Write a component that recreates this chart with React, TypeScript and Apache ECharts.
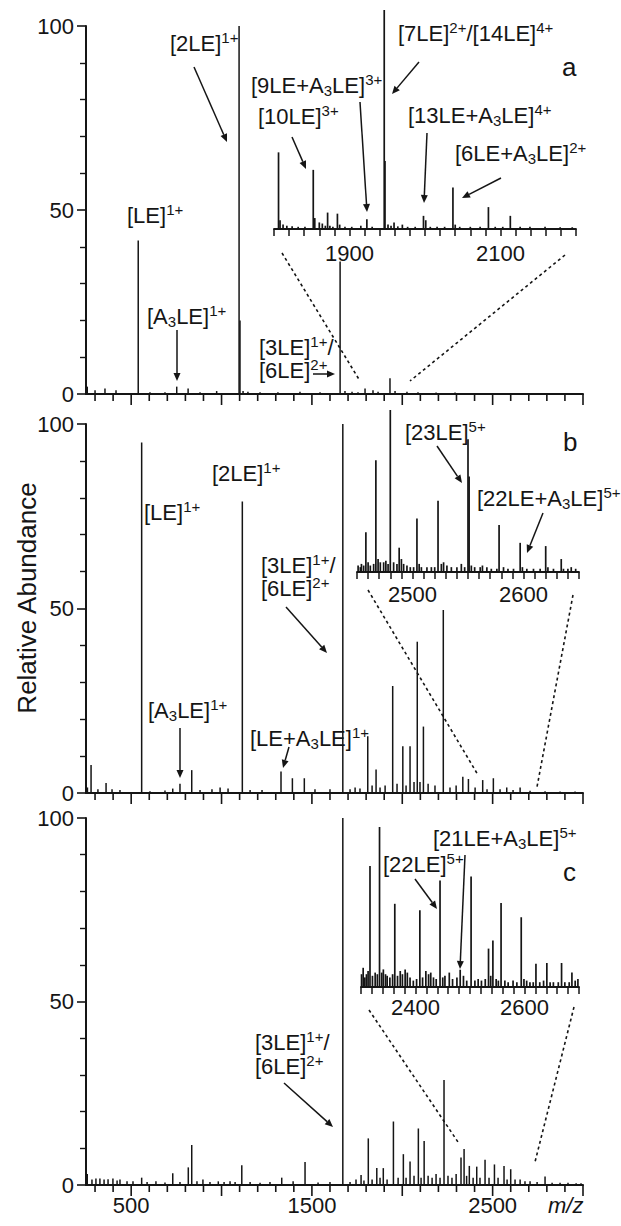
import React, { useEffect, useRef } from 'react';
import * as echarts from 'echarts';

// ---------- data ----------
const mainTicks = [300, 400, 500, 600, 700, 800, 900, 1000, 1100, 1200, 1300, 1400, 1500, 1600, 1700, 1800, 1900, 2000, 2100, 2200, 2300, 2400, 2500, 2600, 2700, 2800, 2900, 3000];
const mainXLabels = [500, 1500, 2500];
const insetALabels = [1900, 2100];
const insetBLabels = [2500, 2600];
const insetCLabels = [2400, 2600];

const peaksA: [number, number][] = [[257, 2], [300, 1], [355, 1.5], [416, 1], [539, 41.7], [604, 0.5], [687, 0.5], [752, 2], [815, 1.5], [881, 0.5], [973, 0.8], [1097, 100], [1102, 20], [1119, 0.8], [1146, 0.6], [1213, 0.5], [1312, 0.5], [1434, 0.6], [1545, 0.5], [1656, 36], [1683, 0.8], [1722, 0.6], [1755, 0.5], [1794, 1.5], [1838, 1], [1866, 0.6], [1932, 4.3], [1960, 0.8], [2026, 0.6], [2087, 0.5], [2187, 0.4], [2292, 0.4], [2430, 0.3]];

const peaksB: [number, number][] = [[258, 1.5], [278, 7.6], [316, 1], [361, 2.7], [394, 1], [438, 0.8], [558, 95], [604, 0.5], [687, 0.7], [730, 1.2], [770, 2.5], [835, 6.2], [881, 0.8], [947, 1], [992, 1.5], [1036, 1.2], [1115, 79], [1158, 0.8], [1224, 0.8], [1329, 5.8], [1392, 4], [1458, 4], [1517, 1], [1600, 1], [1671, 100], [1711, 1], [1739, 1.5], [1766, 1.2], [1809, 15.4], [1833, 2], [1855, 6.4], [1877, 1.5], [1905, 2], [1947, 29], [1971, 2.5], [2003, 12.7], [2021, 2], [2043, 12.7], [2065, 3], [2083, 41], [2098, 3], [2117, 18], [2143, 2.5], [2181, 2], [2227, 49.6], [2264, 1.5], [2298, 2], [2335, 4.4], [2366, 3.8], [2403, 1.5], [2445, 3.5], [2469, 1], [2504, 4], [2541, 1], [2578, 1.5], [2613, 0.8], [2652, 1.5], [2707, 0.6], [2790, 0.5], [2873, 0.4], [2956, 0.4]];

const peaksC: [number, number][] = [[257, 3], [283, 1.5], [305, 1.8], [327, 1.8], [350, 1.5], [372, 1.6], [399, 1.8], [422, 1.2], [438, 1.5], [477, 1], [510, 1], [558, 2], [588, 0.8], [637, 1], [687, 0.7], [730, 3.2], [770, 0.8], [816, 4.8], [835, 10.9], [864, 1], [897, 1.5], [936, 0.8], [982, 1], [1014, 0.8], [1047, 1], [1075, 0.8], [1112, 5.4], [1158, 0.8], [1213, 0.6], [1268, 0.8], [1333, 2], [1396, 1], [1462, 6.3], [1534, 0.7], [1600, 0.8], [1671, 100], [1711, 0.8], [1744, 1.5], [1772, 2.7], [1788, 1.2], [1812, 12.7], [1833, 1.5], [1859, 4.6], [1877, 2], [1895, 4.6], [1916, 1.5], [1951, 17.3], [1977, 2], [2006, 8.4], [2021, 2], [2043, 6.4], [2065, 2.5], [2089, 15.4], [2104, 2], [2121, 12], [2143, 2.5], [2165, 2], [2187, 3], [2209, 2], [2231, 28.6], [2253, 2.5], [2275, 2], [2298, 3], [2325, 7.5], [2342, 9.8], [2356, 2.5], [2371, 5.2], [2392, 2], [2412, 5], [2430, 2], [2458, 6.9], [2480, 2], [2510, 5.6], [2530, 2], [2563, 5.2], [2580, 1.5], [2600, 4.3], [2624, 1.5], [2652, 1.5], [2679, 1], [2707, 1], [2746, 0.8], [2790, 2.3], [2829, 0.6], [2873, 0.6], [2917, 0.6], [2962, 0.5], [2989, 0.5]];

const insetA: [number, number][] = [[1806, 35], [1808, 4], [1812, 2], [1817, 1.5], [1824, 1.2], [1832, 1], [1841, 1], [1852, 27], [1854, 5], [1860, 3], [1864, 2.5], [1868, 1.5], [1871, 7.5], [1874, 1.5], [1878, 1], [1884, 7], [1887, 2], [1894, 1], [1903, 1], [1915, 1.5], [1923, 4.4], [1930, 1], [1946, 100], [1947, 31], [1951, 2], [1955, 1.5], [1959, 3], [1964, 1.2], [1970, 2], [1977, 1], [1987, 1], [1998, 6], [2001, 4], [2007, 1], [2016, 1], [2026, 1], [2037, 19], [2040, 2], [2046, 1], [2060, 1], [2073, 1], [2084, 10], [2093, 1], [2103, 1], [2113, 6], [2126, 1], [2139, 1], [2159, 1], [2179, 0.8], [2195, 0.8]];

const insetB: [number, number][] = [[2451, 4], [2453, 3], [2454, 5], [2456, 4], [2458, 24.6], [2460, 6], [2462, 4], [2465, 5], [2467, 69], [2469, 8], [2471, 6], [2474, 6], [2476, 7], [2478, 5], [2480, 100], [2483, 6], [2486, 5], [2488, 15], [2490, 8], [2492, 5], [2495, 4], [2498, 3], [2501, 3], [2504, 33], [2506, 5], [2508, 3], [2513, 3], [2517, 3], [2520, 3], [2523, 44], [2526, 5], [2528, 6], [2531, 4], [2535, 3], [2540, 3], [2544, 5], [2547, 3], [2550, 82], [2551, 59], [2553, 4], [2556, 3], [2561, 3], [2563, 4], [2567, 3], [2571, 2], [2576, 2], [2578, 29], [2582, 3], [2586, 2], [2591, 2], [2597, 18], [2599, 3], [2603, 2], [2609, 2], [2615, 2], [2620, 16], [2622, 3], [2627, 2], [2634, 8], [2636, 2], [2640, 2], [2643, 3], [2647, 2]];

const insetC: [number, number][] = [[2301, 8], [2304, 12], [2307, 6], [2310, 8], [2313, 10], [2316.5, 75.6], [2321, 7], [2326, 9], [2330, 8], [2334, 100], [2338, 9], [2341, 11], [2345, 8], [2348, 7], [2353, 6], [2358, 8], [2362, 52], [2367, 7], [2372, 10], [2376, 8], [2381, 11], [2385, 9], [2390, 6], [2396, 4], [2402, 5], [2408, 48], [2413, 6], [2419, 10], [2424, 8], [2428, 9], [2433, 6], [2438, 5], [2445, 66.5], [2450, 6], [2454, 7], [2462, 9], [2468, 5], [2476, 6], [2482, 10.8], [2488, 7], [2494, 4], [2502, 69], [2509, 4], [2515, 5], [2521, 4], [2528, 5], [2534, 24], [2538, 7], [2542, 29], [2548, 5], [2552, 4], [2557, 52.5], [2564, 4], [2570, 3], [2579, 4], [2586, 3], [2594, 43.6], [2599, 5], [2604, 4], [2610, 3], [2616, 3], [2621, 14.5], [2628, 3], [2635, 4], [2641, 15], [2647, 3], [2653, 3], [2662, 3], [2668, 15], [2674, 3], [2682, 3], [2687, 9], [2693, 4], [2698, 5]];

// ---------- styling ----------
const C = '#151515';
const FONT = '"Liberation Sans", Arial, Helvetica, sans-serif';

const rich = {
  b: { fontSize: 22, lineHeight: 26, fontFamily: FONT, fill: C, color: C },
  sup: { fontSize: 15, lineHeight: 12, verticalAlign: 'top', fontFamily: FONT, fill: C, color: C },
  sub: { fontSize: 15, lineHeight: 12, verticalAlign: 'bottom', fontFamily: FONT, fill: C, color: C },
};

function label(x: number, y: number, t: string) {
  return {
    type: 'text', x, y, z: 20,
    style: { text: t, rich, fill: C, font: `22px ${FONT}`, align: 'left', verticalAlign: 'middle', textAlign: 'left', textVerticalAlign: 'middle' },
  };
}
function big(x: number, y: number, t: string) {
  return {
    type: 'text', x, y, z: 20,
    style: { text: t, fill: C, font: `26px ${FONT}`, align: 'left', verticalAlign: 'middle', textAlign: 'left', textVerticalAlign: 'middle' },
  };
}
function arrow(x1: number, y1: number, x2: number, y2: number) {
  const dx = x2 - x1, dy = y2 - y1;
  const L = Math.hypot(dx, dy);
  const ux = dx / L, uy = dy / L;
  const hl = 8, hw = 3.5;
  const bx = x2 - ux * hl, by = y2 - uy * hl;
  return [
    { type: 'line', z: 20, shape: { x1, y1, x2: bx, y2: by }, style: { stroke: C, lineWidth: 1.5 } },
    { type: 'polygon', z: 20, shape: { points: [[x2, y2], [bx - uy * hw, by + ux * hw], [bx + uy * hw, by - ux * hw]] }, style: { fill: C } },
  ];
}
function dashed(x1: number, y1: number, x2: number, y2: number) {
  return { type: 'line', z: 5, shape: { x1, y1, x2, y2 }, style: { stroke: C, lineWidth: 1.6, lineDash: [3, 3] } };
}

const A3 = '{b|[A}{sub|3}{b|LE]}';

function stickSeries(data: [number, number][], idx: number, lw: number) {
  return {
    type: 'custom', xAxisIndex: idx, yAxisIndex: idx, silent: true, clip: false,
    data, encode: { x: 0, y: 1 },
    renderItem: (_p: any, api: any) => {
      const x = api.value(0), y = api.value(1);
      const p0 = api.coord([x, 0]);
      const p1 = api.coord([x, y]);
      return { type: 'line', shape: { x1: p0[0], y1: p0[1], x2: p1[0], y2: p1[1] }, style: { stroke: C, lineWidth: lw } };
    },
  };
}
function tickSeries(idx: number) {
  return {
    type: 'custom', xAxisIndex: idx, yAxisIndex: idx, silent: true, clip: false,
    data: mainTicks.map((v) => [v, 0]), encode: { x: 0, y: 1 },
    renderItem: (_p: any, api: any) => {
      const v = api.value(0);
      const p = api.coord([v, 0]);
      const len = v % 500 === 0 ? 11 : 7;
      return { type: 'line', shape: { x1: p[0], y1: p[1], x2: p[0], y2: p[1] + len }, style: { stroke: C, lineWidth: 1.6 } };
    },
  };
}

export default function App() {
  const ref = useRef<HTMLDivElement>(null);
  useEffect(() => {
    document.body.style.margin = '0';
    const chart = echarts.init(ref.current!, null, { renderer: 'svg' });

    const grids = [
      { left: 86, top: 26, width: 497, height: 368 },
      { left: 86, top: 424, width: 497, height: 369 },
      { left: 86, top: 818, width: 497, height: 367 },
      { left: 274, top: 10, width: 302, height: 219 },
      { left: 357, top: 410, width: 222, height: 162 },
      { left: 361, top: 827, width: 218, height: 160 },
    ];

    const mainX = (i: number) => ({
      type: 'value', gridIndex: i, min: 250, max: 3000, interval: 250,
      axisLine: { show: true, lineStyle: { color: C, width: 2 } },
      axisTick: { show: false },
      splitLine: { show: false },
      axisLabel: {
        show: i === 2, fontSize: 22, color: C, fontFamily: FONT, margin: 9,
        formatter: (v: number) => (mainXLabels.includes(v) ? String(v) : ''),
      },
    });
    const insetX = (i: number, min: number, max: number, interval: number, labels: number[], margin: number) => ({
      type: 'value', gridIndex: i, min, max, interval,
      axisLine: { show: true, lineStyle: { color: C, width: 1.8 } },
      axisTick: { show: true, length: 7, lineStyle: { color: C, width: 1.5 } },
      splitLine: { show: false },
      axisLabel: {
        show: true, fontSize: 22, color: C, fontFamily: FONT, margin,
        formatter: (v: number) => (labels.includes(v) ? String(v) : ''),
      },
    });
    const mainY = (i: number) => ({
      type: 'value', gridIndex: i, min: 0, max: 100, interval: 50,
      axisLine: { show: true, lineStyle: { color: C, width: 2 } },
      axisTick: { show: true, length: 9, lineStyle: { color: C, width: 1.6 } },
      minorTick: { show: true, splitNumber: 5, length: 6, lineStyle: { color: C, width: 1.4 } },
      splitLine: { show: false },
      minorSplitLine: { show: false },
      axisLabel: { fontSize: 22, color: C, fontFamily: FONT, margin: 12 },
    });
    const insetY = (i: number) => ({ type: 'value', gridIndex: i, min: 0, max: 100, show: false, splitLine: { show: false } });

    const graphics: any[] = [
      // y title
      {
        type: 'text', x: 27, y: 598, rotation: Math.PI / 2, z: 20,
        style: { text: 'Relative Abundance', fill: C, font: `26px ${FONT}`, align: 'center', verticalAlign: 'middle', textAlign: 'center', textVerticalAlign: 'middle' },
      },
      // m/z
      {
        type: 'text', x: 548, y: 1205, z: 20,
        style: { text: 'm/z', fill: C, font: `italic 22px ${FONT}`, align: 'left', verticalAlign: 'middle', textAlign: 'left', textVerticalAlign: 'middle' },
      },
      // panel a
      label(127, 215, '{b|[LE]}{sup|1+}'),
      label(170, 43, '{b|[2LE]}{sup|1+}'),
      label(147, 316, A3 + '{sup|1+}'),
      label(259, 347, '{b|[3LE]}{sup|1+}{b|/}'),
      label(259, 370, '{b|[6LE]}{sup|2+}'),
      label(258, 116, '{b|[10LE]}{sup|3+}'),
      label(251, 85, '{b|[9LE+A}{sub|3}{b|LE]}{sup|3+}'),
      label(398, 33, '{b|[7LE]}{sup|2+}{b|/[14LE]}{sup|4+}'),
      label(408, 115, '{b|[13LE+A}{sub|3}{b|LE]}{sup|4+}'),
      label(455, 153, '{b|[6LE+A}{sub|3}{b|LE]}{sup|2+}'),
      big(562, 67, 'a'),
      ...arrow(194, 67, 227, 142),
      ...arrow(177, 330, 177, 381),
      ...arrow(313, 374, 335, 374),
      ...arrow(292, 137, 306, 169),
      ...arrow(360, 102, 367, 212),
      ...arrow(419, 62, 392, 94),
      ...arrow(427, 133, 424, 203),
      ...arrow(501, 178, 462, 198),
      dashed(282, 253, 360, 381),
      dashed(565, 255, 410, 381),
      // panel b
      label(144, 512, '{b|[LE]}{sup|1+}'),
      label(212, 473, '{b|[2LE]}{sup|1+}'),
      label(261, 565, '{b|[3LE]}{sup|1+}{b|/}'),
      label(261, 588, '{b|[6LE]}{sup|2+}'),
      label(148, 710, A3 + '{sup|1+}'),
      label(250, 738, '{b|[LE+A}{sub|3}{b|LE]}{sup|1+}'),
      label(405, 432, '{b|[23LE]}{sup|5+}'),
      label(477, 498, '{b|[22LE+A}{sub|3}{b|LE]}{sup|5+}'),
      big(563, 442, 'b'),
      ...arrow(286, 607, 327, 653),
      ...arrow(180, 728, 180, 778),
      ...arrow(289, 747, 283, 768),
      ...arrow(437, 446, 462, 483),
      ...arrow(543, 513, 527, 553),
      dashed(368, 590, 478, 775),
      dashed(573, 595, 537, 787),
      // panel c
      label(255, 1042, '{b|[3LE]}{sup|1+}{b|/}'),
      label(255, 1066, '{b|[6LE]}{sup|2+}'),
      label(383, 864, '{b|[22LE]}{sup|5+}'),
      label(433, 838, '{b|[21LE+A}{sub|3}{b|LE]}{sup|5+}'),
      big(563, 872, 'c'),
      ...arrow(284, 1083, 333, 1127),
      ...arrow(415, 879, 437, 909),
      ...arrow(465, 855, 460, 969),
      dashed(369, 1010, 458, 1142),
      dashed(574, 1007, 535, 1162),
    ];

    chart.setOption({
      animation: false,
      backgroundColor: '#ffffff',
      grid: grids,
      xAxis: [
        mainX(0), mainX(1), mainX(2),
        insetX(3, 1800, 2200, 20, insetALabels, 13),
        insetX(4, 2450, 2650, 10, insetBLabels, 11),
        insetX(5, 2300, 2700, 20, insetCLabels, 9),
      ],
      yAxis: [mainY(0), mainY(1), mainY(2), insetY(3), insetY(4), insetY(5)],
      series: [
        stickSeries(peaksA, 0, 1.5),
        stickSeries(peaksB, 1, 1.5),
        stickSeries(peaksC, 2, 1.5),
        stickSeries(insetA, 3, 1.7),
        stickSeries(insetB, 4, 1.7),
        stickSeries(insetC, 5, 1.7),
        tickSeries(0), tickSeries(1), tickSeries(2),
      ],
      graphic: { elements: graphics },
    });
    return () => chart.dispose();
  }, []);
  return <div ref={ref} style={{ width: 621, height: 1226 }} />;
}
